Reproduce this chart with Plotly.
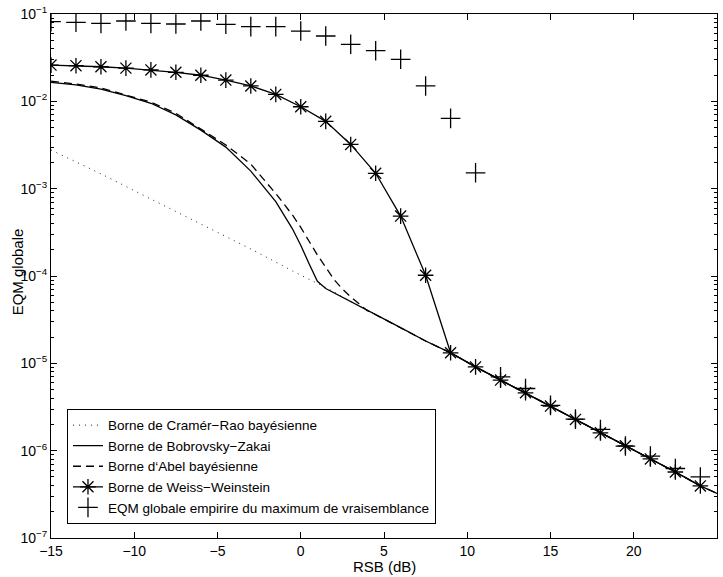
import plotly.graph_objects as go

# ---- data ----
crb_x = [-15, -12, -9, -6, -3, 0, 1.5, 3, 4.5, 6, 7.5, 9, 10.5, 12, 13.5, 15, 16.5, 18, 19.5, 21, 22.5, 24, 25]
crb_y = [2.77e-3, 1.48e-3, 7.6e-4, 3.98e-4, 2.04e-4, 1.02e-4, 7.4e-5, 5.12e-5, 3.62e-5, 2.56e-5,
         1.8e-5, 1.32e-5, 9.1e-6, 6.43e-6, 4.6e-6, 3.24e-6, 2.28e-6, 1.6e-6, 1.135e-6, 8.05e-7,
         5.7e-7, 3.95e-7, 3.24e-7]

bz_x = [-15, -13.5, -12, -10.5, -9, -7.5, -6, -4.5, -3, -1.5, -0.5, 0, 0.5, 1, 1.5,
        3, 4.5, 6, 7.5, 9, 10.5, 12, 13.5, 15, 16.5, 18, 19.5, 21, 22.5, 24, 25]
bz_y = [0.0165, 0.0154, 0.0138, 0.0116, 0.0095, 0.0070, 0.00468, 0.00299, 0.00159, 7.1e-4,
        3.47e-4, 2.25e-4, 1.38e-4, 8.7e-5, 7.2e-5,
        5.12e-5, 3.62e-5, 2.56e-5, 1.8e-5, 1.32e-5, 9.1e-6, 6.43e-6, 4.6e-6, 3.24e-6,
        2.28e-6, 1.6e-6, 1.135e-6, 8.05e-7, 5.7e-7, 3.95e-7, 3.24e-7]

abel_x = [-15, -13.5, -12, -10.5, -9, -7.5, -6, -4.5, -3, -1.5, -0.5, 0, 0.5, 1, 1.5, 2, 2.5,
          3, 3.5, 4, 4.5, 6, 7.5, 9, 10.5, 12, 13.5, 15, 16.5, 18, 19.5, 21, 22.5, 24, 25]
abel_y = [0.0170, 0.0158, 0.0142, 0.0119, 0.0098, 0.0073, 0.00481, 0.00317, 0.00191, 8.8e-4,
          5.0e-4, 3.6e-4, 2.5e-4, 1.74e-4, 1.26e-4, 9.1e-5, 7.1e-5,
          5.75e-5, 4.8e-5, 4.0e-5, 3.6e-5, 2.56e-5, 1.8e-5, 1.32e-5, 9.1e-6, 6.43e-6, 4.6e-6,
          3.24e-6, 2.28e-6, 1.6e-6, 1.135e-6, 8.05e-7, 5.7e-7, 3.95e-7, 3.24e-7]

ww_x = [-15, -13.5, -12, -10.5, -9, -7.5, -6, -4.5, -3, -1.5, 0, 1.5, 3, 4.5, 6, 7.5,
        9, 10.5, 12, 13.5, 15, 16.5, 18, 19.5, 21, 22.5, 24]
ww_y = [0.026, 0.0256, 0.0249, 0.024, 0.0229, 0.0215, 0.0199, 0.0175, 0.015, 0.012, 0.00867,
        0.0059, 0.00321, 0.0015, 4.85e-4, 1.02e-4,
        1.32e-5, 9.1e-6, 6.43e-6, 4.6e-6, 3.24e-6, 2.28e-6, 1.6e-6, 1.135e-6, 8.05e-7, 5.7e-7, 3.95e-7]

ml_x = [-15, -13.5, -12, -10.5, -9, -7.5, -6, -4.5, -3, -1.5, 0, 1.5, 3, 4.5, 6, 7.5, 9, 10.5,
        12, 13.5, 15, 16.5, 18, 19.5, 21, 22.5, 24]
ml_y = [0.0816, 0.0803, 0.0782, 0.0832, 0.0782, 0.0768, 0.0832, 0.0762, 0.0716, 0.0716, 0.0638,
        0.056, 0.045, 0.038, 0.0303, 0.015, 0.00638, 0.00152,
        7.0e-6, 5.15e-6, 3.3e-6, 2.3e-6, 1.75e-6, 1.13e-6, 8.65e-7, 6.25e-7, 5.0e-7]

names = ["Borne de Cramér\u2212Rao bayésienne",
         "Borne de Bobrovsky\u2212Zakai",
         "Borne d\u2018Abel bayésienne",
         "Borne de Weiss\u2212Weinstein",
         "EQM globale empirire du maximum de vraisemblance"]

x_ticks = [-15, -10, -5, 0, 5, 10, 15, 20, 25]
x_ticktext = ["\u221215", "\u221210", "\u22125", "0", "5", "10", "15", "20", "25"]
y_ticks = [1e-7, 1e-6, 1e-5, 1e-4, 1e-3, 1e-2, 1e-1]
y_ticktext = ["10<sup>\u22127</sup>", "10<sup>\u22126</sup>", "10<sup>\u22125</sup>",
              "10<sup>\u22124</sup>", "10<sup>\u22123</sup>", "10<sup>\u22122</sup>",
              "10<sup>\u22121</sup>"]
x_title = "RSB (dB)"
y_title = "EQM globale"

FONT = "Liberation Sans, Arial, Helvetica, sans-serif"

fig = go.Figure()
fig.add_trace(go.Scatter(x=crb_x, y=crb_y, mode="lines", name=names[0],
                         line=dict(color="#222222", width=1, dash="1px,5px")))
fig.add_trace(go.Scatter(x=bz_x, y=bz_y, mode="lines", name=names[1],
                         line=dict(color="black", width=1.3)))
fig.add_trace(go.Scatter(x=abel_x, y=abel_y, mode="lines", name=names[2],
                         line=dict(color="black", width=1.3, dash="8px,5px")))
fig.add_trace(go.Scatter(x=ww_x, y=ww_y, mode="lines+markers", name=names[3],
                         line=dict(color="black", width=1.3),
                         marker=dict(symbol="asterisk-open", size=13, color="black",
                                     line=dict(color="black", width=1.3))))
fig.add_trace(go.Scatter(x=ml_x, y=ml_y, mode="markers", name=names[4],
                         marker=dict(symbol="cross-thin-open", size=14, color="black",
                                     line=dict(color="black", width=1.3))))

axis_common = dict(showgrid=False, zeroline=False, showline=True, linecolor="black",
                   linewidth=1, mirror="ticks", ticks="inside", tickcolor="black",
                   automargin=False,
                   tickfont=dict(family=FONT, size=14, color="black"))

fig.update_layout(
    width=723, height=577,
    margin=dict(l=51, r=6, t=14, b=39),
    paper_bgcolor="white", plot_bgcolor="white",
    font=dict(family=FONT, size=14, color="black"),
    xaxis=dict(range=[-15, 25], tickmode="array", tickvals=x_ticks, ticktext=x_ticktext,
               ticklen=6, **axis_common),
    yaxis=dict(type="log", range=[-7, -1], tickmode="array", tickvals=y_ticks,
               ticktext=y_ticktext, ticklen=6,
               minor=dict(ticks="inside", ticklen=3, tickcolor="black", showgrid=False,
                          dtick="D1"),
               **axis_common),
    legend=dict(x=0.024, y=0.027, xanchor="left", yanchor="bottom",
                bordercolor="black", borderwidth=1, bgcolor="white",
                font=dict(family=FONT, size=13.5), tracegroupgap=0,
                itemwidth=30),
    showlegend=True,
    annotations=[
        dict(text=x_title, xref="paper", yref="paper", x=0.5, y=-0.055,
             xanchor="center", yanchor="middle", showarrow=False,
             font=dict(family=FONT, size=15)),
        dict(text=y_title, xref="paper", yref="paper", x=-0.051, y=0.507,
             xanchor="center", yanchor="middle", showarrow=False, textangle=-90,
             font=dict(family=FONT, size=15)),
    ],
)

# remove the default 8px page margin so the figure fills the window exactly
fig.write_html("out.html", config={"displayModeBar": False},
               post_script="document.body.style.margin='0';document.body.style.overflow='hidden';")
